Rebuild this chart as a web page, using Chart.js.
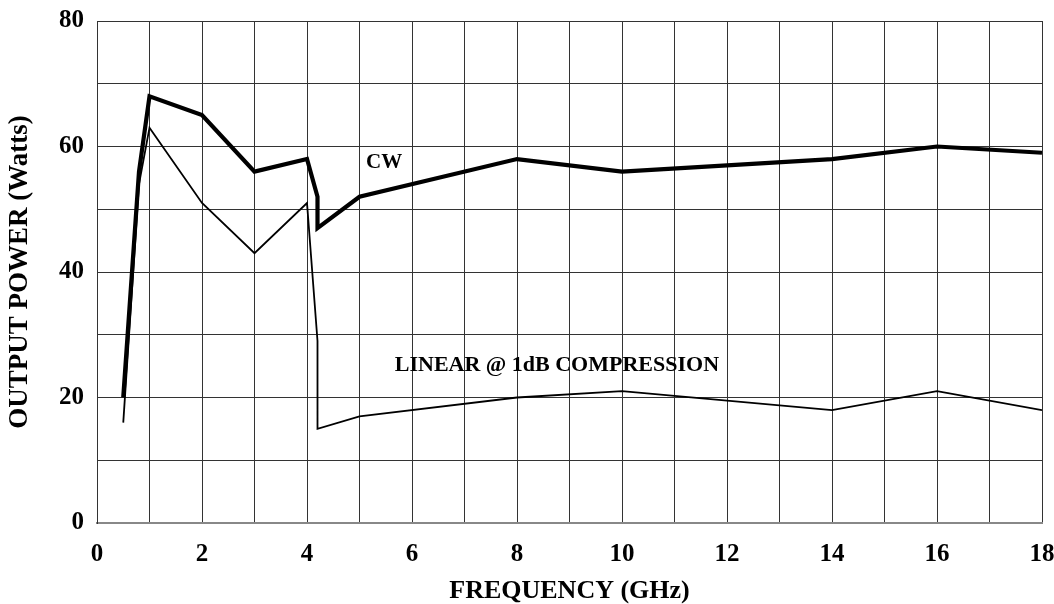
<!DOCTYPE html>
<html>
<head>
<meta charset="utf-8">
<title>Output Power vs Frequency</title>
<script src="https://cdn.jsdelivr.net/npm/chart.js@4/dist/chart.umd.min.js"></script>
<style>
  body { margin: 0; background: #fff; }
  #chart { display: block; }
</style>
</head>
<body>
<canvas id="chart" width="1054" height="604"></canvas>
<script>
'use strict'

// data
let cwFreq = [0.5, 0.8, 1, 2, 3, 4, 4.2, 4.2, 5, 8, 10, 14, 16, 18];
let cwPower = [20, 56, 68, 65, 56, 58, 52, 47, 52, 58, 56, 58, 60, 59];

let linFreq = [0.5, 0.8, 1, 2, 3, 4, 4.2, 4.2, 5, 8, 10, 14, 16, 18];
let linPower = [16, 54, 63, 51, 43, 51, 29, 15, 17, 20, 21, 18, 21, 18];

let xTickLabels = ['0', '2', '4', '6', '8', '10', '12', '14', '16', '18'];
let yTickLabels = ['0', '20', '40', '60', '80'];

let serif = "'Liberation Serif', 'Times New Roman', serif";

function toPoints(xs, ys) {
  let pts = [];
  for (let i = 0; i < xs.length; i++) {
    pts.push({ x: xs[i], y: ys[i] });
  }
  return pts;
}

// drop the extra room chart.js keeps for edge tick labels
function noEdgePadding(scale) {
  scale.paddingTop = 0;
  scale.paddingBottom = 0;
  scale.paddingLeft = 0;
  scale.paddingRight = 0;
}

// text labels placed inside the plot
let curveLabels = {
  id: 'curveLabels',
  afterDatasetsDraw(chart) {
    let ctx = chart.ctx;
    let xs = chart.scales.x;
    let ys = chart.scales.y;
    ctx.save();
    ctx.fillStyle = '#000';
    ctx.textAlign = 'center';
    ctx.textBaseline = 'middle';
    ctx.font = 'bold 21px ' + serif;
    ctx.fillText('CW', xs.getPixelForValue(5.47), ys.getPixelForValue(57.4));
    ctx.font = 'bold 22px ' + serif;
    ctx.fillText('LINEAR @ 1dB COMPRESSION', xs.getPixelForValue(8.76), ys.getPixelForValue(25.1));
    ctx.restore();
  }
};

let whiteBg = {
  id: 'whiteBg',
  beforeDraw(chart) {
    let ctx = chart.ctx;
    ctx.save();
    ctx.fillStyle = '#fff';
    ctx.fillRect(0, 0, chart.width, chart.height);
    ctx.restore();
  }
};

let chartContext = document.getElementById('chart').getContext('2d');

let chartConfig = {
  type: 'line',
  data: {
    datasets: [{
      label: 'CW',
      data: toPoints(cwFreq, cwPower),
      borderColor: '#000',
      borderWidth: 4.2,
      borderJoinStyle: 'miter',
      pointRadius: 0,
      tension: 0,
      fill: false,
    }, {
      label: 'LINEAR @ 1dB COMPRESSION',
      data: toPoints(linFreq, linPower),
      borderColor: '#000',
      borderWidth: 1.8,
      borderJoinStyle: 'miter',
      pointRadius: 0,
      tension: 0,
      fill: false,
    }],
  },
  options: {
    responsive: false,
    animation: false,
    layout: { padding: { top: 21, right: 12, left: 0, bottom: 0 } },
    plugins: {
      legend: { display: false },
      tooltip: { enabled: false },
    },
    scales: {
      x: {
        type: 'linear',
        min: 0,
        max: 18,
        afterFit(scale) {
          scale.height = 81;
          noEdgePadding(scale);
        },
        ticks: {
          stepSize: 1,
          autoSkip: false,
          maxRotation: 0,
          padding: 17,
          color: '#000',
          font: { family: serif, size: 25, weight: 'bold' },
          callback(value) {
            return value % 2 === 0 ? xTickLabels[value / 2] : '';
          },
        },
        grid: { color: '#333', lineWidth: 1, drawTicks: false },
        border: { color: '#888', width: 2 },
        title: {
          display: true,
          text: 'FREQUENCY (GHz)',
          color: '#000',
          font: { family: serif, size: 26, weight: 'bold', lineHeight: 1 },
          padding: { top: 0, bottom: 0 },
        },
      },
      y: {
        min: 0,
        max: 80,
        afterFit(scale) {
          scale.width = 97;
          noEdgePadding(scale);
        },
        ticks: {
          stepSize: 10,
          autoSkip: false,
          padding: 13,
          color: '#000',
          font: { family: serif, size: 25, weight: 'bold' },
          callback(value) {
            return value % 20 === 0 ? yTickLabels[value / 20] : '';
          },
        },
        grid: { color: '#333', lineWidth: 1, drawTicks: false },
        border: { color: '#333', width: 1 },
        title: {
          display: true,
          text: 'OUTPUT POWER (Watts)',
          color: '#000',
          font: { family: serif, size: 27, weight: 'bold', lineHeight: 1 },
          padding: { top: 6.5, bottom: 0 },
        },
      },
    },
  },
  plugins: [whiteBg, curveLabels],
};

let myChart = new Chart(chartContext, chartConfig);
</script>
</body>
</html>
